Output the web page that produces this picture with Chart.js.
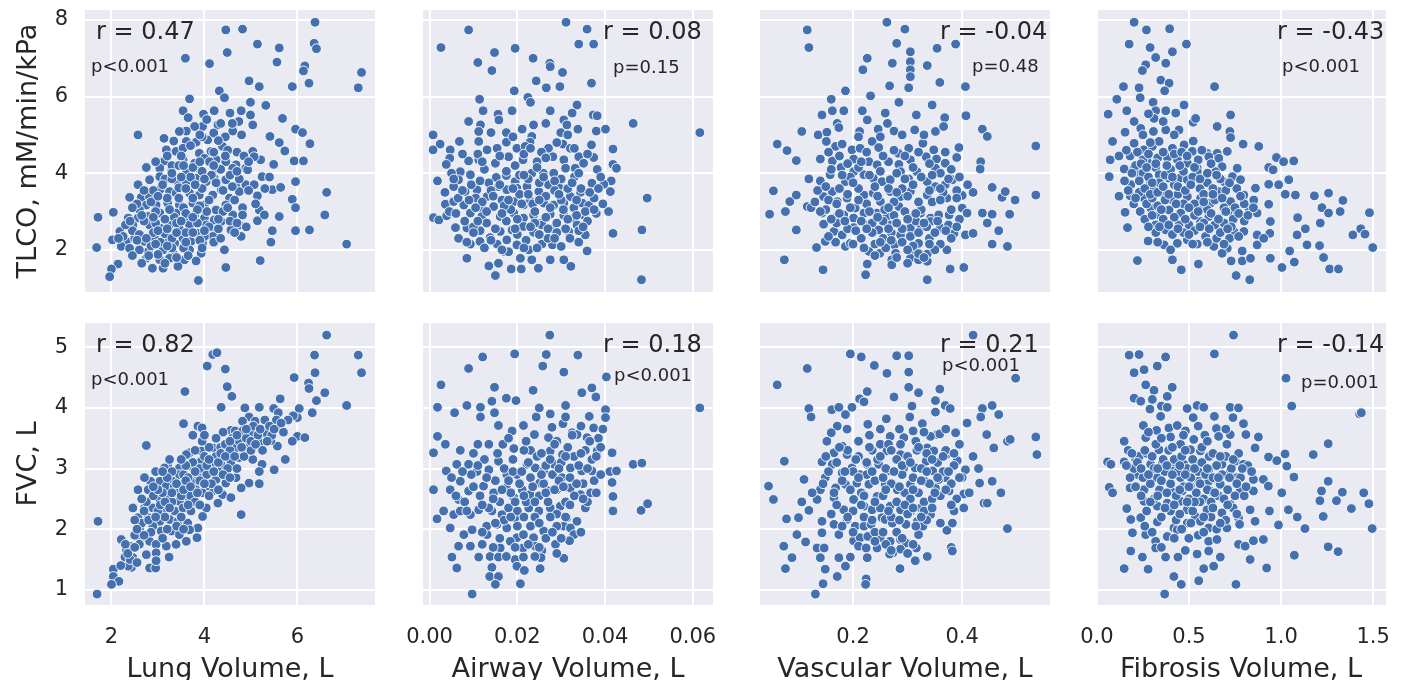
<!DOCTYPE html>
<html>
<head>
<meta charset="utf-8">
<script src="https://cdn.jsdelivr.net/npm/chart.js@4"></script>
<style>
  html, body { margin: 0; padding: 0; background: #fff; overflow: hidden; }
  #wrap { position: relative; width: 1404px; height: 680px; overflow: hidden; }
  #wrap canvas { position: absolute; }
</style>
</head>
<body>
<div id="wrap"></div>
<script>
// values, one [x, y] list per panel
// (later lines of each list = markers estimated inside the dense clusters)

// row 1: TLCO
let lungTlco = [[6.38,7.94],[4.46,7.74],[4.82,7.76],[5.14,7.37],[5.61,7.27],[6.36,7.39],[6.41,7.25],[4.49,7.15],[3.59,7.0],[4.11,6.86],[5.56,6.90],[6.16,6.80],[6.13,6.67],[7.38,6.63],[7.31,6.23],[4.96,6.41],[5.18,6.26],[5.89,6.26],[6.25,6.35],[4.32,6.15],[4.43,5.97],[3.68,5.94],[4.99,5.85],[5.32,5.77],[3.54,5.63],[3.98,5.54],[4.21,5.63],[4.55,5.57],[4.79,5.63],[4.99,5.52],[5.68,5.43],[4.74,5.35],[4.29,5.26],[3.96,5.22],[3.79,5.22],[3.61,5.10],[3.46,5.09],[4.61,5.10],[5.04,5.26],[2.57,5.0],[5.96,5.15],[6.11,5.06],[5.41,4.96],[5.61,4.80],[6.27,4.77],[3.13,4.91],[3.34,4.84],[3.61,4.83],[3.82,4.81],[4.07,4.87],[4.39,4.70],[5.73,4.58],[5.04,4.57],[5.21,4.35],[3.18,4.61],[3.39,4.57],[3.54,4.65],[3.89,4.52],[4.14,4.57],[4.25,4.35],[4.46,4.30],[4.68,4.22],[4.89,4.13],[5.07,4.43],[5.49,4.23],[5.93,4.32],[6.13,4.32],[3.14,4.32],[3.54,4.35],[3.79,4.26],[4.0,4.39],[2.75,4.15],[3.04,4.13],[3.29,4.04],[3.61,4.0],[3.86,4.13],[4.11,4.30],[4.29,4.13],[4.61,4.13],[4.93,4.09],[5.24,3.91],[5.96,3.78],[2.82,3.83],[3.04,3.91],[3.43,3.78],[3.61,3.78],[3.82,3.87],[4.04,3.78],[4.21,3.87],[4.46,3.83],[4.68,3.65],[4.89,3.70],[5.07,3.70],[2.57,3.70],[5.46,3.57],[5.64,3.63],[6.63,3.50],[2.39,3.37],[2.64,3.37],[2.82,3.39],[3.04,3.57],[3.25,3.52],[3.39,3.48],[3.68,3.48],[3.89,3.43],[4.18,3.43],[4.36,3.57],[4.54,3.35],[4.75,3.52],[5.14,3.41],[5.89,3.32],[5.96,3.10],[2.75,3.17],[2.96,3.17],[3.21,3.22],[3.46,3.17],[3.75,3.22],[4.0,3.17],[4.25,3.04],[4.46,3.17],[4.82,3.10],[5.18,3.04],[5.61,2.87],[6.59,2.91],[1.71,2.85],[2.04,2.98],[2.36,2.83],[2.57,2.83],[2.79,2.87],[3.04,2.96],[3.39,2.96],[3.61,2.83],[3.79,2.91],[4.0,2.83],[4.21,2.78],[4.36,2.74],[4.61,2.91],[4.82,2.91],[5.14,2.76],[5.29,2.91],[2.18,2.48],[2.46,2.65],[2.82,2.65],[3.04,2.57],[3.25,2.65],[3.46,2.55],[3.68,2.65],[3.86,2.43],[4.04,2.65],[4.21,2.48],[4.57,2.52],[4.75,2.65],[5.46,2.50],[5.96,2.50],[6.26,2.52],[2.02,2.26],[2.32,2.22],[2.50,2.30],[2.71,2.22],[2.93,2.30],[3.14,2.26],[3.36,2.17],[3.54,2.30],[3.71,2.22],[3.96,2.17],[4.18,2.35],[4.79,2.35],[5.43,2.20],[7.06,2.15],[1.68,2.06],[2.21,2.09],[2.39,2.04],[2.79,1.96],[3.11,2.0],[3.32,1.91],[3.68,2.0],[3.93,1.91],[4.43,2.0],[2.14,1.63],[2.75,1.78],[3.04,1.74],[3.25,1.78],[3.46,1.65],[3.57,1.74],[3.82,1.71],[2.88,1.52],[3.11,1.52],[3.43,1.57],[2.0,1.50],[1.96,1.30],[4.46,1.54],[5.20,1.72],[3.87,1.2],
  [2.6,3.05],[2.9,3.55],[3.15,3.85],[3.3,4.2],[3.5,4.45],[3.7,4.72],[3.95,4.95],[4.2,5.05],[4.45,4.95],[4.7,4.55],[4.85,4.45],[4.2,4.55],[3.95,4.05],[3.7,3.9],[3.45,3.62],[3.2,3.35],[2.95,3.0],[2.7,2.75],[2.45,2.5],[2.25,2.35],[2.6,2.4],[2.9,2.45],[3.15,2.42],[3.35,2.85],[3.55,3.1],[3.75,3.35],[3.95,3.6],[4.15,3.95],[4.35,4.1],[4.55,3.95],[4.75,3.85],[4.95,3.55],[4.65,3.3],[4.4,3.0],[4.1,2.6],[3.85,2.7],[3.6,2.45],[3.3,2.3],[3.05,2.2],[2.85,2.1],[2.6,2.0],[2.45,1.85],[2.65,1.65],[3.0,1.88],[3.3,2.05],[3.55,2.05],[3.75,2.45],[4.0,2.35],[4.3,2.55],[4.55,2.75],[4.9,2.6],[5.1,3.2],[5.3,3.6],[5.4,3.9],[4.05,3.0],[3.9,3.15],[3.25,3.05],[2.95,2.7],[2.3,2.65],[2.15,2.3],[3.5,3.9],[3.75,4.15],[4.5,4.6],[4.3,4.85],[3.45,4.2],[3.2,4.45],[2.95,4.3],[3.9,5.0],[4.6,5.3],[4.05,5.4],
  [2.55,3.2],[2.7,3.55],[2.85,3.25],[3.0,3.4],[3.1,3.7],[3.3,3.85],[3.45,3.35],[3.6,3.6],[3.8,3.7],[4.0,3.85],[4.25,3.75],[4.4,3.55],[4.6,3.65],[4.1,3.3],[3.85,3.05],[3.6,2.95],[3.4,2.7],[3.15,2.8],[2.9,2.85],[2.65,2.9],[2.45,3.1],[2.4,2.75],[2.55,2.25],[2.75,2.3],[3.0,2.5],[3.2,2.55],[3.5,2.75],[3.75,2.85],[4.0,2.5],[4.3,2.8],[4.5,3.1],[4.7,2.7],[4.2,2.2],[3.9,2.25],[3.6,2.2],[3.4,2.45],[3.2,2.1],[2.95,2.15],[2.8,1.85],[3.15,1.65],[3.4,1.8],[3.65,1.85],[3.95,2.05],[4.35,2.3],[4.65,2.45],[3.3,4.0],[3.55,4.2],[3.9,4.3],[4.2,4.2],[4.45,4.45],[4.7,4.05],[4.95,4.3],[4.8,5.0],[4.35,5.3],[3.65,5.45]]

let airwayTlco = [[0.0311,7.94],[0.0089,7.74],[0.0359,7.76],[0.0340,7.37],[0.0374,7.37],[0.0026,7.28],[0.0148,7.15],[0.0195,7.26],[0.0110,6.89],[0.0142,6.68],[0.0236,7.0],[0.0274,6.87],[0.0275,6.78],[0.0303,6.63],[0.0369,6.35],[0.0243,6.41],[0.0266,6.23],[0.0297,6.26],[0.0193,6.15],[0.0114,5.93],[0.0224,5.98],[0.0230,5.85],[0.0336,5.78],[0.0122,5.63],[0.0188,5.63],[0.0275,5.63],[0.0325,5.57],[0.0373,5.52],[0.0382,5.50],[0.0464,5.30],[0.0616,5.06],[0.0156,5.54],[0.0158,5.39],[0.0089,5.35],[0.0116,5.26],[0.0140,5.06],[0.0112,5.09],[0.0211,5.15],[0.0237,5.26],[0.0306,5.39],[0.0313,5.26],[0.0338,5.15],[0.0380,5.10],[0.0401,5.15],[0.0299,5.06],[0.0008,5.0],[0.0175,5.06],[0.0233,4.96],[0.0229,4.81],[0.0068,4.83],[0.0024,4.76],[0.0112,4.83],[0.0154,4.65],[0.0131,4.61],[0.0175,4.81],[0.0199,4.65],[0.0218,4.70],[0.0271,4.65],[0.0304,4.76],[0.0321,4.65],[0.0369,4.74],[0.0418,4.63],[0.0008,4.61],[0.0047,4.61],[0.0046,4.39],[0.0038,4.23],[0.0089,4.32],[0.0112,4.35],[0.0150,4.26],[0.0180,4.43],[0.0213,4.35],[0.0245,4.30],[0.0281,4.43],[0.0306,4.35],[0.0340,4.43],[0.0374,4.41],[0.0418,4.23],[0.0426,4.13],[0.0070,4.04],[0.0093,3.96],[0.0066,3.83],[0.0018,3.80],[0.0152,3.89],[0.0175,3.94],[0.0195,3.78],[0.0233,4.0],[0.0259,4.0],[0.0283,4.0],[0.0310,4.13],[0.0332,4.13],[0.0351,4.26],[0.0382,4.10],[0.0414,3.80],[0.0397,3.71],[0.0370,3.74],[0.0055,3.65],[0.0081,3.52],[0.0108,3.57],[0.0131,3.39],[0.0157,3.65],[0.0176,3.57],[0.0199,3.61],[0.0222,3.65],[0.0249,3.52],[0.0271,3.70],[0.0294,3.65],[0.0321,3.39],[0.0344,3.50],[0.0412,3.52],[0.0496,3.35],[0.0036,3.19],[0.0055,3.26],[0.0078,3.17],[0.0119,3.10],[0.0146,3.13],[0.0192,3.26],[0.0214,3.17],[0.0229,3.28],[0.0260,3.22],[0.0283,3.17],[0.0306,3.22],[0.0329,3.10],[0.0348,3.22],[0.0363,3.16],[0.0009,2.84],[0.0021,2.78],[0.0039,2.89],[0.0093,2.96],[0.0119,2.87],[0.0161,2.87],[0.0192,2.96],[0.0214,2.83],[0.0237,2.91],[0.0256,2.70],[0.0275,2.93],[0.0306,2.90],[0.0329,2.83],[0.0351,2.91],[0.0408,3.0],[0.0484,2.52],[0.0059,2.58],[0.0085,2.57],[0.0115,2.50],[0.0138,2.32],[0.0161,2.48],[0.0188,2.52],[0.0214,2.61],[0.0237,2.46],[0.0256,2.65],[0.0280,2.55],[0.0317,2.48],[0.0336,2.65],[0.0355,2.39],[0.0418,2.43],[0.0066,2.30],[0.0093,2.15],[0.0115,2.22],[0.0154,2.15],[0.0176,2.26],[0.0199,2.13],[0.0226,2.0],[0.0256,2.15],[0.0280,2.13],[0.0300,2.09],[0.0085,1.78],[0.0135,1.58],[0.0157,1.65],[0.0169,1.96],[0.0207,1.78],[0.0233,1.74],[0.0248,1.52],[0.0275,1.74],[0.0306,1.74],[0.0322,1.57],[0.0359,1.97],[0.0150,1.33],[0.0186,1.50],[0.0209,1.50],[0.0483,1.22],
  [0.0045,3.0],[0.0065,3.35],[0.0095,3.7],[0.0125,4.1],[0.0135,3.75],[0.0165,3.3],[0.0185,3.05],[0.0205,3.45],[0.0225,3.85],[0.0245,4.15],[0.0265,3.4],[0.0285,3.55],[0.0300,3.85],[0.0315,3.6],[0.0335,3.3],[0.0355,3.0],[0.0375,3.35],[0.0390,3.9],[0.0360,4.5],[0.0330,4.65],[0.0290,4.8],[0.0255,4.55],[0.0215,4.5],[0.0175,4.05],[0.0140,3.55],[0.0105,3.35],[0.0080,2.75],[0.0100,2.6],[0.0130,2.7],[0.0150,2.55],[0.0175,2.75],[0.0200,2.4],[0.0220,2.25],[0.0240,2.7],[0.0265,2.85],[0.0290,2.7],[0.0310,2.55],[0.0340,2.5],[0.0360,2.75],[0.0380,2.95],[0.0270,2.3],[0.0245,2.05],[0.0180,1.95],[0.0125,2.05],[0.0100,2.45],[0.0060,2.95],[0.0035,3.5],[0.0050,4.0],[0.0110,4.5],[0.0190,4.95],[0.0265,5.3],[0.0315,5.0],[0.0205,3.95],[0.0250,3.75],[0.0160,4.45],[0.0235,3.2],[0.0300,3.3],[0.0330,3.9],[0.0170,3.15],[0.0120,3.25],
  [0.0055,3.85],[0.0075,3.55],[0.0090,3.3],[0.0105,3.1],[0.0115,3.8],[0.0130,3.0],[0.0145,3.4],[0.0160,3.7],[0.0165,2.95],[0.0180,3.3],[0.0190,3.6],[0.0200,2.8],[0.0210,3.2],[0.0215,3.95],[0.0225,3.45],[0.0230,2.6],[0.0240,3.0],[0.0250,3.3],[0.0260,3.9],[0.0270,2.55],[0.0275,3.1],[0.0285,3.8],[0.0290,2.45],[0.0295,3.45],[0.0305,3.05],[0.0315,2.8],[0.0325,3.75],[0.0335,2.9],[0.0345,3.6],[0.0350,2.6],[0.0365,3.5],[0.0375,3.05],[0.0385,3.6],[0.0395,3.2],[0.0085,2.2],[0.0110,2.75],[0.0140,2.25],[0.0165,2.0],[0.0195,2.55],[0.0215,2.05],[0.0250,2.4],[0.0285,2.3],[0.0320,2.3],[0.0340,2.2],[0.0120,4.3],[0.0195,4.2],[0.0265,4.4],[0.0340,4.0],[0.0075,4.5],[0.0230,4.65]]

let vascTlco = [[0.262,7.94],[0.116,7.74],[0.295,7.76],[0.119,7.28],[0.280,7.39],[0.305,7.17],[0.354,7.26],[0.388,7.37],[0.226,7.0],[0.218,6.70],[0.272,6.87],[0.305,6.91],[0.305,6.70],[0.305,6.52],[0.302,6.23],[0.336,6.81],[0.267,6.28],[0.359,6.37],[0.406,6.26],[0.186,6.15],[0.160,5.93],[0.232,6.02],[0.284,5.85],[0.345,5.78],[0.143,5.52],[0.162,5.63],[0.183,5.63],[0.217,5.63],[0.226,5.39],[0.259,5.57],[0.263,5.30],[0.316,5.52],[0.368,5.45],[0.407,5.50],[0.171,5.30],[0.106,5.09],[0.136,5.0],[0.152,5.07],[0.174,5.19],[0.212,5.09],[0.246,5.15],[0.275,5.10],[0.313,5.13],[0.351,5.09],[0.366,5.22],[0.437,5.15],[0.446,4.96],[0.061,4.76],[0.079,4.59],[0.096,4.33],[0.151,4.83],[0.168,4.70],[0.180,4.76],[0.198,4.61],[0.213,4.65],[0.235,4.83],[0.247,4.67],[0.283,4.52],[0.302,4.65],[0.328,4.78],[0.348,4.61],[0.369,4.55],[0.394,4.67],[0.390,4.41],[0.535,4.71],[0.434,4.30],[0.433,4.11],[0.140,4.37],[0.162,4.32],[0.178,4.15],[0.201,4.37],[0.229,4.30],[0.244,4.22],[0.265,4.30],[0.284,4.23],[0.305,4.35],[0.334,4.43],[0.353,4.37],[0.369,4.26],[0.119,3.85],[0.143,3.70],[0.158,3.96],[0.186,3.78],[0.201,4.04],[0.220,3.96],[0.237,3.87],[0.253,3.78],[0.268,3.83],[0.287,4.04],[0.302,3.85],[0.317,4.04],[0.336,3.78],[0.351,4.13],[0.369,3.70],[0.382,3.83],[0.054,3.54],[0.084,3.26],[0.096,3.43],[0.116,3.13],[0.123,3.10],[0.146,3.39],[0.162,3.52],[0.171,3.26],[0.189,3.35],[0.204,3.09],[0.220,3.43],[0.237,3.48],[0.250,3.26],[0.268,3.52],[0.287,3.39],[0.305,3.52],[0.320,3.26],[0.336,3.43],[0.351,3.65],[0.372,3.35],[0.400,3.42],[0.420,3.50],[0.455,3.63],[0.473,3.37],[0.479,3.52],[0.497,3.30],[0.535,3.43],[0.047,2.93],[0.076,3.0],[0.143,2.96],[0.165,2.83],[0.183,2.91],[0.201,2.83],[0.220,2.96],[0.244,2.96],[0.262,2.87],[0.284,3.13],[0.302,2.83],[0.324,2.96],[0.342,2.83],[0.357,2.91],[0.376,2.91],[0.400,3.09],[0.409,2.96],[0.437,2.96],[0.455,2.93],[0.487,2.93],[0.096,2.52],[0.146,2.67],[0.165,2.48],[0.180,2.39],[0.201,2.58],[0.224,2.65],[0.247,2.52],[0.268,2.65],[0.287,2.39],[0.305,2.57],[0.324,2.65],[0.342,2.74],[0.360,2.57],[0.385,2.43],[0.406,2.39],[0.420,2.43],[0.446,2.70],[0.467,2.50],[0.133,2.06],[0.149,2.22],[0.168,2.20],[0.186,2.09],[0.195,2.17],[0.229,1.96],[0.249,1.91],[0.276,2.13],[0.278,1.91],[0.305,1.97],[0.320,2.17],[0.336,1.89],[0.372,2.0],[0.455,2.15],[0.483,2.09],[0.074,1.74],[0.145,1.48],[0.226,1.63],[0.223,1.35],[0.271,1.74],[0.271,1.61],[0.305,1.78],[0.320,1.74],[0.336,1.70],[0.378,1.50],[0.403,1.54],[0.336,1.22],
  [0.155,4.55],[0.175,4.45],[0.19,4.25],[0.21,4.15],[0.225,4.55],[0.255,4.45],[0.275,4.6],[0.295,4.45],[0.32,4.55],[0.34,4.25],[0.36,4.0],[0.38,4.1],[0.395,3.9],[0.41,3.7],[0.39,3.55],[0.365,3.5],[0.345,3.25],[0.325,3.05],[0.31,3.7],[0.29,3.6],[0.275,3.25],[0.258,3.05],[0.24,3.65],[0.225,3.2],[0.21,3.6],[0.195,3.9],[0.175,3.6],[0.155,3.3],[0.135,3.55],[0.13,3.25],[0.15,3.05],[0.175,2.95],[0.195,3.1],[0.215,2.75],[0.235,2.7],[0.255,2.75],[0.275,2.9],[0.295,3.0],[0.315,2.75],[0.335,2.6],[0.355,2.75],[0.375,2.65],[0.395,2.8],[0.29,2.55],[0.27,2.45],[0.255,2.3],[0.235,2.45],[0.215,2.3],[0.19,2.55],[0.17,2.7],[0.155,2.35],[0.305,2.35],[0.32,2.45],[0.34,2.3],[0.36,2.15],[0.29,2.2],[0.31,2.1],[0.26,2.05],[0.24,2.15],[0.28,1.8],[0.3,1.65],[0.32,1.9],[0.35,2.0],[0.21,4.95],[0.29,5.0],[0.33,5.0],[0.25,4.95],
  [0.14,3.8],[0.16,4.1],[0.18,3.95],[0.2,3.75],[0.215,4.3],[0.23,3.95],[0.25,4.05],[0.265,3.6],[0.28,4.0],[0.295,3.85],[0.31,4.15],[0.325,3.9],[0.345,3.95],[0.36,3.6],[0.375,3.85],[0.39,3.35],[0.38,3.05],[0.36,3.3],[0.34,3.55],[0.32,3.25],[0.3,3.4],[0.28,3.5],[0.265,3.1],[0.245,3.4],[0.23,3.0],[0.21,3.3],[0.19,3.45],[0.17,3.2],[0.15,3.65],[0.14,3.0],[0.16,2.8],[0.185,2.75],[0.205,2.5],[0.225,2.55],[0.245,2.85],[0.265,2.55],[0.28,2.7],[0.3,2.8],[0.315,2.95],[0.33,2.7],[0.35,2.45],[0.37,2.5],[0.39,2.6],[0.25,2.2],[0.27,2.25],[0.3,2.0],[0.34,2.15],[0.38,2.3],[0.22,2.05],[0.2,2.15],[0.24,1.85],[0.33,1.8]]

let fibTlco = [[0.202,7.94],[0.269,7.74],[0.395,7.77],[0.175,7.37],[0.289,7.28],[0.486,7.37],[0.410,7.17],[0.319,7.02],[0.265,6.83],[0.247,6.68],[0.374,6.87],[0.347,6.43],[0.392,6.35],[0.368,6.15],[0.144,6.26],[0.229,6.23],[0.235,5.97],[0.108,5.93],[0.639,6.26],[0.061,5.54],[0.162,5.63],[0.305,5.85],[0.319,5.63],[0.374,5.63],[0.428,5.57],[0.473,5.78],[0.310,5.43],[0.202,5.35],[0.238,5.17],[0.153,5.07],[0.307,5.09],[0.374,5.13],[0.446,5.13],[0.523,5.33],[0.536,5.43],[0.653,5.22],[0.726,5.52],[0.722,5.09],[0.726,4.93],[0.085,4.83],[0.202,4.78],[0.256,4.61],[0.301,4.70],[0.338,4.83],[0.410,4.65],[0.473,4.74],[0.523,4.84],[0.518,4.57],[0.599,4.52],[0.653,4.52],[0.708,4.57],[0.794,4.76],[0.879,4.70],[0.072,4.35],[0.148,4.11],[0.202,4.13],[0.220,4.0],[0.274,4.30],[0.319,4.15],[0.383,4.41],[0.437,4.35],[0.491,4.26],[0.545,4.13],[0.608,4.43],[0.662,4.39],[0.680,4.17],[0.762,4.13],[0.933,4.15],[0.975,4.41],[0.957,4.09],[1.014,4.30],[1.069,4.32],[0.067,3.91],[0.184,3.70],[0.289,3.78],[0.338,3.96],[0.392,3.87],[0.451,3.87],[0.491,3.83],[0.545,4.04],[0.590,3.89],[0.644,4.04],[0.690,3.78],[0.736,3.91],[0.780,3.83],[0.861,3.61],[0.933,3.71],[0.987,3.70],[1.042,3.83],[0.181,3.41],[0.256,3.35],[0.356,3.48],[0.410,3.30],[0.491,3.39],[0.563,3.35],[0.617,3.22],[0.662,3.52],[0.726,3.26],[0.798,3.43],[0.852,3.30],[0.933,3.19],[1.023,3.45],[1.078,3.43],[1.181,3.41],[1.258,3.48],[1.336,3.29],[0.153,2.98],[0.235,3.0],[0.292,3.09],[0.338,2.91],[0.392,3.04],[0.455,2.96],[0.509,3.09],[0.554,3.04],[0.608,2.87],[0.662,2.83],[0.717,3.0],[0.762,2.91],[0.825,3.09],[0.870,2.96],[0.942,2.74],[1.090,2.84],[1.222,3.10],[1.258,2.96],[1.321,3.0],[1.480,2.97],[0.166,2.58],[0.319,2.65],[0.374,2.52],[0.446,2.65],[0.500,2.65],[0.563,2.74],[0.608,2.57],[0.671,2.48],[0.744,2.48],[0.798,2.48],[0.870,2.39],[0.939,2.43],[1.087,2.39],[1.132,2.55],[1.213,2.70],[1.390,2.39],[1.433,2.55],[1.456,2.41],[1.498,2.06],[0.278,2.23],[0.365,2.13],[0.437,2.17],[0.491,2.26],[0.545,2.15],[0.635,2.09],[0.708,2.04],[0.789,1.97],[0.870,2.13],[0.906,2.30],[1.047,1.97],[1.141,2.13],[1.209,2.11],[0.220,1.72],[0.410,1.74],[0.458,1.48],[0.551,1.63],[0.680,1.91],[0.729,1.71],[0.789,1.71],[0.834,1.78],[0.942,1.78],[1.005,1.54],[1.072,1.68],[1.231,1.80],[1.264,1.50],[1.312,1.50],[0.756,1.33],[0.830,1.22],
  [0.18,4.45],[0.22,4.55],[0.25,4.35],[0.28,4.5],[0.33,4.4],[0.36,4.55],[0.42,4.5],[0.46,4.55],[0.49,4.45],[0.55,4.35],[0.57,4.6],[0.62,4.25],[0.21,4.2],[0.25,4.0],[0.28,3.9],[0.31,3.6],[0.34,3.75],[0.37,3.95],[0.4,4.1],[0.42,3.7],[0.47,4.05],[0.52,3.9],[0.56,3.6],[0.6,3.75],[0.63,3.6],[0.67,3.85],[0.7,3.55],[0.76,3.6],[0.2,3.2],[0.23,3.5],[0.27,3.2],[0.3,3.35],[0.33,3.15],[0.37,3.3],[0.44,3.45],[0.47,3.2],[0.53,3.2],[0.58,3.45],[0.6,3.05],[0.64,3.3],[0.69,3.1],[0.75,3.1],[0.8,3.2],[0.26,2.8],[0.3,2.9],[0.36,2.8],[0.42,2.85],[0.48,2.8],[0.53,2.9],[0.58,2.7],[0.64,2.65],[0.69,2.7],[0.74,2.8],[0.8,2.75],[0.32,2.45],[0.41,2.4],[0.47,2.45],[0.53,2.5],[0.59,2.35],[0.65,2.3],[0.72,2.3],[0.4,2.0],[0.25,5.0],[0.29,4.8],[0.16,4.6],[0.12,3.4],[0.12,4.45],[0.36,5.35],[0.42,5.0],[0.28,5.55],
  [0.15,3.8],[0.17,3.55],[0.19,4.0],[0.21,3.35],[0.23,3.8],[0.24,4.25],[0.26,3.6],[0.27,4.15],[0.29,3.45],[0.3,3.75],[0.32,4.25],[0.33,3.5],[0.35,3.05],[0.36,3.65],[0.38,4.2],[0.39,3.45],[0.41,3.9],[0.43,3.2],[0.44,3.65],[0.45,4.2],[0.48,3.55],[0.5,3.1],[0.51,3.7],[0.53,4.15],[0.55,3.0],[0.56,3.85],[0.58,3.25],[0.6,4.0],[0.62,2.95],[0.63,3.45],[0.65,3.95],[0.66,2.8],[0.68,3.35],[0.7,3.0],[0.72,3.75],[0.73,2.6],[0.77,2.95],[0.78,3.4],[0.82,2.9],[0.85,3.1],[0.28,2.6],[0.34,2.6],[0.39,2.65],[0.44,2.55],[0.5,2.4],[0.56,2.6],[0.61,2.55],[0.67,2.45],[0.71,2.55],[0.77,2.35],[0.33,2.2],[0.52,2.15],[0.6,2.2],[0.69,2.15]]

// row 2: FVC
let lungFvc = [[6.63,5.20],[1.71,2.13],[1.69,0.93],[4.18,4.88],[4.27,4.91],[4.06,4.69],[4.45,4.64],[3.58,4.27],[4.49,4.35],[4.59,4.19],[4.36,4.01],[3.55,3.74],[3.86,3.70],[3.95,3.67],[2.75,3.38],[6.37,4.87],[7.31,4.87],[7.38,4.58],[6.38,4.58],[5.93,4.50],[6.24,4.41],[6.25,4.32],[6.59,4.25],[6.41,4.12],[7.06,4.04],[5.63,4.15],[5.49,3.99],[5.59,3.92],[6.04,3.99],[6.0,3.84],[5.91,3.87],[6.32,3.92],[5.18,4.01],[4.87,4.0],[4.96,3.85],[4.82,3.78],[5.09,3.78],[5.43,3.71],[4.57,3.63],[4.66,3.62],[4.82,3.62],[5.04,3.59],[5.32,3.59],[5.61,3.67],[6.0,3.53],[6.16,3.51],[5.89,3.45],[5.57,3.37],[5.43,3.46],[5.18,3.42],[4.96,3.37],[4.68,3.34],[4.39,3.29],[4.18,3.34],[3.93,3.29],[3.68,3.26],[3.61,3.23],[5.74,3.15],[5.50,2.98],[5.24,3.07],[5.04,3.15],[4.75,3.18],[4.57,3.09],[4.36,3.06],[4.14,3.06],[3.93,3.12],[3.71,3.04],[3.46,3.01],[3.21,3.04],[3.14,3.01],[5.18,2.95],[4.96,2.76],[5.18,2.75],[4.79,2.68],[4.79,2.24],[4.68,2.85],[4.46,2.76],[4.25,2.82],[4.18,2.63],[4.04,2.71],[3.79,2.79],[3.46,2.90],[3.57,2.76],[3.32,2.79],[3.04,2.79],[2.84,2.79],[2.71,2.85],[3.18,2.71],[3.39,2.60],[3.61,2.63],[3.82,2.65],[4.39,2.57],[4.57,2.52],[4.29,2.43],[2.57,2.65],[2.79,2.65],[3.04,2.49],[3.21,2.52],[3.46,2.46],[3.68,2.49],[3.86,2.41],[4.04,2.35],[2.46,2.35],[2.71,2.35],[2.89,2.35],[3.11,2.32],[3.36,2.30],[3.54,2.35],[3.71,2.30],[3.96,2.21],[2.57,2.19],[2.79,2.19],[3.04,2.13],[3.25,2.16],[3.43,2.13],[3.64,2.10],[3.86,2.02],[2.61,2.02],[2.89,2.05],[3.07,1.97],[3.29,1.97],[3.46,1.91],[3.68,1.99],[3.84,1.86],[2.21,1.83],[2.39,1.72],[2.61,1.85],[2.82,1.80],[2.96,1.75],[3.18,1.72],[3.39,1.75],[3.61,1.80],[2.32,1.66],[2.29,1.54],[2.46,1.53],[2.75,1.58],[2.96,1.61],[3.24,1.54],[2.82,1.36],[2.95,1.36],[2.43,1.37],[2.04,1.34],[2.04,1.22],[2.16,1.14],[2.0,1.09],[2.36,1.39],[2.96,1.48],
  [2.3,1.75],[2.5,1.9],[2.65,2.1],[2.75,2.45],[2.9,2.55],[3.0,2.3],[3.1,2.6],[3.15,2.2],[3.3,2.45],[3.35,2.7],[3.45,2.6],[3.5,2.2],[3.55,2.9],[3.65,2.85],[3.7,2.55],[3.75,3.1],[3.8,2.45],[3.85,2.9],[3.9,3.0],[3.95,2.6],[4.0,3.2],[4.05,2.9],[4.1,3.35],[4.15,2.75],[4.2,3.1],[4.25,3.2],[4.3,2.95],[4.35,3.35],[4.45,3.4],[4.5,3.0],[4.55,3.3],[4.6,3.5],[4.7,3.0],[4.75,3.45],[4.85,3.2],[4.9,3.5],[5.0,3.3],[5.05,3.7],[5.15,3.55],[5.25,3.3],[5.3,3.8],[5.45,3.55],[5.55,3.8],[5.7,3.6],[5.8,3.8],[3.3,2.95],[3.6,3.05],[3.2,2.85],[2.95,2.95],[2.65,2.5],[2.5,2.15],[2.85,1.95],[2.6,1.75],[3.1,1.85],[3.95,3.45],[4.4,3.6],[4.25,3.5],[4.0,3.55],[3.75,3.55],[3.9,2.4],[4.1,2.55],[3.4,2.05],[2.4,1.5],[2.2,1.4],[2.55,1.45],
  [2.35,1.6],[2.5,1.7],[2.7,1.9],[2.8,2.15],[2.95,2.2],[3.05,2.4],[3.15,2.45],[3.25,2.35],[3.3,2.6],[3.4,2.75],[3.5,2.55],[3.55,2.65],[3.6,2.8],[3.65,2.4],[3.7,2.7],[3.8,2.95],[3.85,2.6],[3.9,2.8],[4.0,2.75],[4.05,3.05],[4.1,3.15],[4.2,2.95],[4.3,3.1],[4.35,3.25],[4.4,2.9],[4.45,3.2],[4.55,3.45],[4.65,3.2],[4.7,3.55],[4.8,3.35],[4.9,3.65],[5.0,3.45],[5.1,3.4],[5.2,3.65],[5.35,3.45],[5.4,3.7],[5.5,3.65],[5.65,3.75],[3.0,2.65],[3.1,2.95],[2.9,2.7],[2.7,2.3],[2.55,2.0],[3.5,3.15],[3.25,3.15],[3.8,3.3],[4.55,2.85],[4.3,2.65],[3.55,2.0],[3.2,2.0]]

let airwayFvc = [[0.0274,5.20],[0.0121,4.84],[0.0194,4.89],[0.0266,4.88],[0.0338,4.87],[0.0089,4.65],[0.0258,4.69],[0.0306,4.59],[0.0403,4.51],[0.0026,4.38],[0.0148,4.34],[0.0236,4.29],[0.0347,4.25],[0.0370,4.33],[0.0379,4.18],[0.0175,4.16],[0.0197,4.12],[0.0142,4.11],[0.0085,4.04],[0.0018,4.01],[0.0116,4.01],[0.0057,3.92],[0.0148,3.92],[0.0116,3.85],[0.0310,4.04],[0.0401,3.97],[0.0401,3.84],[0.0616,4.0],[0.0364,3.86],[0.0243,3.85],[0.0157,3.71],[0.0214,3.71],[0.0188,3.62],[0.0279,3.68],[0.0304,3.74],[0.0374,3.67],[0.0239,3.56],[0.0271,3.51],[0.0290,3.45],[0.0325,3.59],[0.0336,3.56],[0.0359,3.51],[0.0018,3.53],[0.0036,3.40],[0.0009,3.26],[0.0110,3.40],[0.0167,3.40],[0.0192,3.33],[0.0230,3.30],[0.0275,3.29],[0.0303,3.23],[0.0329,3.20],[0.0382,3.29],[0.0416,3.26],[0.0464,3.07],[0.0484,3.09],[0.0038,2.96],[0.0062,3.07],[0.0089,3.07],[0.0108,2.95],[0.0135,2.98],[0.0157,3.12],[0.0176,2.90],[0.0199,2.90],[0.0222,3.07],[0.0241,3.01],[0.0260,2.96],[0.0283,3.07],[0.0302,2.85],[0.0321,3.01],[0.0347,2.96],[0.0370,2.96],[0.0411,2.95],[0.0426,2.96],[0.0416,2.77],[0.0009,2.65],[0.0047,2.65],[0.0070,2.79],[0.0066,2.49],[0.0089,2.63],[0.0123,2.71],[0.0146,2.60],[0.0175,2.68],[0.0192,2.52],[0.0211,2.65],[0.0229,2.57],[0.0251,2.76],[0.0271,2.63],[0.0290,2.65],[0.0321,2.68],[0.0344,2.57],[0.0367,2.60],[0.0418,2.54],[0.0418,2.30],[0.0482,2.31],[0.0497,2.42],[0.0017,2.17],[0.0032,2.30],[0.0055,2.24],[0.0070,2.30],[0.0093,2.24],[0.0112,2.32],[0.0142,2.30],[0.0165,2.24],[0.0180,2.35],[0.0195,2.19],[0.0226,2.35],[0.0249,2.30],[0.0275,2.35],[0.0298,2.38],[0.0313,2.19],[0.0336,2.13],[0.0355,2.35],[0.0047,2.02],[0.0078,1.91],[0.0097,1.99],[0.0131,1.91],[0.0154,2.08],[0.0176,2.02],[0.0199,1.86],[0.0214,1.91],[0.0237,1.86],[0.0260,1.97],[0.0287,1.75],[0.0306,2.05],[0.0321,2.02],[0.0329,1.91],[0.0066,1.72],[0.0093,1.72],[0.0161,1.69],[0.0184,1.80],[0.0213,1.69],[0.0241,1.72],[0.0256,1.65],[0.0319,1.81],[0.0051,1.54],[0.0112,1.54],[0.0138,1.55],[0.0157,1.54],[0.0195,1.50],[0.0214,1.54],[0.0254,1.53],[0.0306,1.52],[0.0062,1.36],[0.0142,1.37],[0.0199,1.39],[0.0216,1.32],[0.0252,1.35],[0.0137,1.22],[0.0157,1.22],[0.0150,1.09],[0.0207,1.10],[0.0097,0.93],
  [0.0050,2.85],[0.0080,2.45],[0.0095,2.9],[0.0115,2.55],[0.0125,3.15],[0.0135,2.35],[0.0150,2.8],[0.0160,2.45],[0.0170,3.0],[0.0185,2.6],[0.0190,2.95],[0.0200,2.3],[0.0205,2.75],[0.0215,3.3],[0.0220,2.45],[0.0230,2.85],[0.0240,2.2],[0.0245,3.2],[0.0250,2.55],[0.0260,2.75],[0.0265,3.05],[0.0270,2.45],[0.0280,2.9],[0.0285,3.4],[0.0290,2.25],[0.0295,2.8],[0.0300,3.1],[0.0310,2.45],[0.0315,3.35],[0.0320,2.85],[0.0330,2.55],[0.0340,3.05],[0.0350,2.75],[0.0355,3.3],[0.0360,2.45],[0.0370,3.15],[0.0375,2.8],[0.0385,3.5],[0.0390,2.9],[0.0395,3.65],[0.0345,3.7],[0.0310,3.85],[0.0275,3.9],[0.0250,4.0],[0.0220,3.45],[0.0180,3.5],[0.0135,3.4],[0.0100,3.25],[0.0070,3.3],[0.0130,2.05],[0.0160,1.85],[0.0200,2.05],[0.0230,2.05],[0.0265,1.85],[0.0290,2.05],[0.0250,1.7],[0.0175,1.55],[0.0120,1.75],[0.0290,1.6],[0.0345,1.95],
  [0.0060,2.55],[0.0075,2.95],[0.0085,2.3],[0.0100,2.7],[0.0110,3.05],[0.0120,2.4],[0.0130,2.85],[0.0145,2.5],[0.0155,3.25],[0.0165,2.65],[0.0170,2.15],[0.0180,2.8],[0.0190,3.15],[0.0195,2.45],[0.0210,2.95],[0.0215,2.55],[0.0225,3.1],[0.0235,2.7],[0.0240,2.45],[0.0255,2.9],[0.0255,3.25],[0.0265,2.6],[0.0275,2.2],[0.0275,3.15],[0.0285,2.65],[0.0295,3.0],[0.0305,2.7],[0.0310,3.2],[0.0320,2.4],[0.0325,3.55],[0.0335,2.75],[0.0345,3.25],[0.0350,2.5],[0.0360,3.0],[0.0365,3.45],[0.0380,2.6],[0.0380,3.2],[0.0390,3.35],[0.0150,2.1],[0.0185,2.2],[0.0215,2.2],[0.0250,2.1],[0.0280,1.95],[0.0310,2.2],[0.0120,1.95],[0.0225,1.75],[0.0195,1.7],[0.0240,1.55],[0.0145,1.7],[0.0300,1.85]]

let vascFvc = [[0.420,5.20],[0.195,4.89],[0.215,4.84],[0.280,4.86],[0.302,4.86],[0.116,4.65],[0.239,4.70],[0.262,4.57],[0.302,4.59],[0.498,4.49],[0.061,4.38],[0.226,4.27],[0.212,4.15],[0.220,4.10],[0.275,4.18],[0.302,4.34],[0.320,4.25],[0.359,4.31],[0.351,4.12],[0.369,4.04],[0.378,3.99],[0.308,4.03],[0.351,3.93],[0.437,3.99],[0.455,4.04],[0.467,3.89],[0.434,3.85],[0.119,3.99],[0.123,3.85],[0.161,3.97],[0.174,4.01],[0.198,4.01],[0.186,3.89],[0.261,3.82],[0.304,3.85],[0.327,3.74],[0.227,3.73],[0.171,3.70],[0.160,3.59],[0.189,3.65],[0.354,3.56],[0.310,3.62],[0.342,3.53],[0.359,3.57],[0.388,3.59],[0.409,3.75],[0.445,3.56],[0.483,3.45],[0.488,3.48],[0.458,3.34],[0.535,3.52],[0.537,3.23],[0.268,3.53],[0.293,3.51],[0.287,3.40],[0.250,3.40],[0.152,3.45],[0.180,3.37],[0.165,3.26],[0.189,3.23],[0.235,3.30],[0.262,3.29],[0.287,3.23],[0.317,3.30],[0.336,3.34],[0.348,3.29],[0.371,3.23],[0.391,3.13],[0.074,3.12],[0.143,3.11],[0.162,3.07],[0.180,2.93],[0.198,3.01],[0.213,2.90],[0.226,3.07],[0.247,3.07],[0.268,2.96],[0.293,3.01],[0.314,3.01],[0.334,3.12],[0.346,2.96],[0.369,2.85],[0.406,2.98],[0.400,2.85],[0.432,2.76],[0.455,2.79],[0.471,2.60],[0.110,2.82],[0.149,2.85],[0.045,2.71],[0.054,2.49],[0.140,2.65],[0.168,2.68],[0.186,2.74],[0.207,2.76],[0.229,2.74],[0.244,2.54],[0.259,2.74],[0.281,2.65],[0.305,2.74],[0.331,2.79],[0.351,2.68],[0.357,2.82],[0.376,2.63],[0.403,2.58],[0.413,2.60],[0.440,2.43],[0.446,2.43],[0.106,2.45],[0.134,2.49],[0.165,2.52],[0.183,2.32],[0.201,2.49],[0.220,2.38],[0.235,2.32],[0.253,2.19],[0.268,2.38],[0.287,2.32],[0.306,2.30],[0.324,2.35],[0.342,2.24],[0.385,2.30],[0.403,2.35],[0.078,2.17],[0.100,2.19],[0.119,2.31],[0.143,2.13],[0.165,2.08],[0.189,2.16],[0.204,2.05],[0.220,2.05],[0.233,2.08],[0.259,2.16],[0.272,2.10],[0.297,2.08],[0.318,2.13],[0.328,2.05],[0.372,1.98],[0.382,2.10],[0.483,2.01],[0.097,1.91],[0.113,1.79],[0.143,1.94],[0.174,1.91],[0.201,1.81],[0.213,1.86],[0.227,1.88],[0.250,1.86],[0.268,1.80],[0.287,1.83],[0.297,1.77],[0.320,1.91],[0.073,1.72],[0.134,1.69],[0.147,1.69],[0.210,1.72],[0.224,1.69],[0.244,1.69],[0.273,1.61],[0.287,1.67],[0.316,1.69],[0.380,1.70],[0.382,1.64],[0.088,1.53],[0.140,1.53],[0.174,1.53],[0.195,1.54],[0.226,1.53],[0.267,1.59],[0.336,1.55],[0.076,1.35],[0.149,1.34],[0.186,1.39],[0.286,1.35],[0.314,1.48],[0.171,1.22],[0.224,1.18],[0.223,1.09],[0.145,1.10],[0.131,0.93],
  [0.15,3.2],[0.17,3.1],[0.18,2.8],[0.19,3.3],[0.2,2.95],[0.21,3.2],[0.215,2.6],[0.225,2.9],[0.23,3.35],[0.24,2.8],[0.245,3.15],[0.255,2.55],[0.26,3.0],[0.265,3.4],[0.27,2.75],[0.28,3.15],[0.28,2.45],[0.29,2.9],[0.295,2.6],[0.3,3.2],[0.305,2.5],[0.31,2.85],[0.315,3.45],[0.32,2.6],[0.325,3.0],[0.33,2.45],[0.335,3.25],[0.34,2.75],[0.345,2.5],[0.355,3.1],[0.36,2.55],[0.365,2.95],[0.37,3.3],[0.38,2.75],[0.385,3.05],[0.39,2.5],[0.395,3.4],[0.25,2.35],[0.27,2.2],[0.3,2.25],[0.315,2.05],[0.335,2.15],[0.22,2.2],[0.2,2.3],[0.18,2.05],[0.16,2.25],[0.24,1.95],[0.28,1.95],[0.3,1.6],[0.26,1.75],[0.25,3.65],[0.23,3.55],[0.285,3.65],[0.33,3.6],[0.37,3.65],[0.21,3.45],[0.145,2.75],[0.125,2.6],[0.42,3.2],[0.43,3.0],
  [0.155,2.95],[0.165,2.6],[0.175,3.35],[0.185,2.95],[0.195,2.65],[0.205,3.15],[0.21,2.85],[0.22,2.55],[0.225,3.1],[0.235,2.95],[0.24,2.45],[0.25,3.2],[0.255,2.85],[0.26,2.65],[0.27,3.3],[0.275,2.95],[0.285,2.7],[0.29,3.05],[0.295,2.4],[0.305,3.1],[0.31,2.65],[0.32,3.35],[0.325,2.8],[0.33,2.3],[0.335,2.95],[0.345,3.15],[0.35,2.6],[0.355,2.85],[0.365,3.2],[0.37,2.65],[0.375,2.95],[0.38,2.4],[0.385,3.25],[0.395,2.85],[0.265,2.3],[0.285,2.15],[0.31,2.35],[0.325,2.2],[0.345,2.35],[0.235,2.15],[0.215,2.4],[0.19,2.2],[0.17,2.4],[0.255,1.95],[0.29,1.85],[0.27,1.65],[0.24,1.8],[0.31,1.75],[0.2,1.95],[0.36,2.1]]

let fibFvc = [[0.742,5.20],[0.175,4.87],[0.229,4.88],[0.373,4.84],[0.638,4.89],[0.328,4.69],[0.256,4.63],[0.202,4.58],[1.027,4.49],[0.265,4.38],[0.310,4.29],[0.409,4.34],[0.382,4.19],[1.058,4.03],[1.427,3.90],[1.436,3.92],[0.202,4.16],[0.238,4.11],[0.301,4.14],[0.350,4.03],[0.382,4.01],[0.288,3.98],[0.346,3.86],[0.490,3.99],[0.544,4.04],[0.580,4.01],[0.523,3.84],[0.724,4.01],[0.769,4.0],[0.739,3.84],[0.796,3.74],[0.638,3.86],[0.649,3.66],[0.252,3.71],[0.324,3.63],[0.391,3.67],[0.436,3.71],[0.481,3.62],[0.526,3.48],[0.586,3.55],[0.661,3.53],[0.724,3.56],[0.809,3.56],[0.877,3.52],[0.859,3.34],[1.256,3.41],[1.175,3.23],[1.022,3.24],[0.932,3.19],[0.977,3.13],[1.031,3.04],[1.070,2.86],[1.256,2.79],[0.148,3.45],[0.265,3.51],[0.337,3.31],[0.400,3.52],[0.454,3.40],[0.508,3.31],[0.562,3.29],[0.706,3.40],[0.751,3.12],[0.796,3.07],[0.058,3.11],[0.076,3.07],[0.148,3.11],[0.211,3.15],[0.292,3.07],[0.355,3.09],[0.418,3.04],[0.472,3.07],[0.544,3.09],[0.607,2.98],[0.679,3.07],[0.724,2.96],[0.220,2.90],[0.328,2.85],[0.409,2.96],[0.454,2.85],[0.553,2.79],[0.607,2.79],[0.661,2.79],[0.760,2.85],[0.850,2.82],[0.904,2.82],[0.180,2.68],[0.067,2.69],[0.085,2.60],[0.256,2.65],[0.400,2.65],[0.463,2.63],[0.508,2.71],[0.616,2.63],[0.670,2.74],[0.778,2.65],[0.850,2.63],[0.931,2.71],[1.004,2.60],[1.220,2.63],[1.211,2.47],[1.301,2.47],[1.333,2.61],[1.382,2.34],[1.449,2.60],[1.477,2.42],[1.229,2.21],[1.495,2.01],[0.162,2.34],[0.256,2.46],[0.328,2.38],[0.382,2.43],[0.454,2.46],[0.490,2.32],[0.535,2.21],[0.598,2.32],[0.679,2.27],[0.724,2.41],[0.769,2.19],[0.832,2.32],[0.937,2.30],[1.040,2.32],[1.088,2.20],[1.130,2.01],[0.986,2.07],[0.184,2.16],[0.238,2.19],[0.328,2.12],[0.418,2.02],[0.490,2.10],[0.562,2.13],[0.607,2.02],[0.706,2.02],[0.775,2.08],[0.859,2.13],[0.193,1.94],[0.265,1.91],[0.319,1.80],[0.382,1.88],[0.436,1.99],[0.499,1.85],[0.607,1.80],[0.652,1.83],[0.769,1.75],[0.805,1.72],[0.850,1.81],[0.904,1.83],[1.256,1.71],[1.310,1.63],[0.184,1.64],[0.247,1.54],[0.319,1.69],[0.373,1.54],[0.440,1.54],[0.544,1.59],[0.607,1.64],[0.670,1.54],[0.832,1.50],[1.072,1.57],[0.148,1.35],[0.278,1.34],[0.418,1.22],[0.458,1.09],[0.553,1.15],[0.580,1.35],[0.634,1.39],[0.922,1.36],[0.755,1.09],[0.368,0.93],
  [0.17,3.3],[0.2,3.0],[0.23,3.2],[0.25,2.85],[0.27,3.25],[0.29,2.75],[0.31,3.0],[0.32,3.4],[0.34,2.65],[0.36,3.15],[0.37,2.95],[0.39,3.3],[0.4,2.75],[0.42,3.15],[0.43,2.55],[0.44,2.95],[0.46,3.2],[0.47,2.7],[0.49,3.0],[0.5,2.5],[0.51,2.85],[0.52,3.15],[0.54,2.6],[0.55,2.95],[0.57,3.35],[0.58,2.5],[0.59,2.9],[0.61,3.2],[0.62,2.45],[0.63,2.85],[0.65,3.05],[0.66,2.55],[0.68,2.9],[0.7,3.2],[0.71,2.65],[0.73,3.0],[0.75,2.55],[0.77,3.25],[0.78,2.85],[0.8,2.55],[0.82,3.05],[0.27,2.3],[0.31,2.5],[0.35,2.2],[0.4,2.3],[0.43,2.15],[0.46,2.0],[0.52,2.3],[0.56,2.45],[0.62,2.2],[0.65,2.0],[0.7,2.15],[0.74,2.35],[0.3,1.95],[0.35,1.7],[0.55,1.9],[0.28,3.6],[0.35,3.5],[0.47,3.55],[0.55,3.7],[0.6,3.45],[0.7,3.65],
  [0.16,3.05],[0.18,2.85],[0.19,3.25],[0.21,2.7],[0.22,3.1],[0.24,3.0],[0.26,3.3],[0.28,2.9],[0.3,3.2],[0.33,3.0],[0.35,2.8],[0.38,3.05],[0.38,2.6],[0.41,2.9],[0.41,3.35],[0.45,3.05],[0.45,2.65],[0.48,2.9],[0.48,3.3],[0.5,2.7],[0.53,3.0],[0.53,2.45],[0.56,2.75],[0.57,3.1],[0.6,2.65],[0.6,3.0],[0.63,3.25],[0.64,2.6],[0.66,2.85],[0.67,3.2],[0.69,2.5],[0.72,2.85],[0.74,3.15],[0.76,2.75],[0.79,3.0],[0.81,2.7],[0.84,2.95],[0.24,2.55],[0.29,2.45],[0.33,2.55],[0.37,2.35],[0.42,2.4],[0.45,2.25],[0.49,2.45],[0.51,2.1],[0.58,2.2],[0.63,2.35],[0.67,2.1],[0.71,2.4],[0.76,2.25],[0.42,1.85],[0.26,2.05],[0.58,1.95],[0.48,1.65]]

// axis titles, ticks and the r / p notes
let xTitles = ['Lung Volume, L', 'Airway Volume, L', 'Vascular Volume, L', 'Fibrosis Volume, L']
let yTitles = ['TLCO, mM/min/kPa', 'FVC, L']
let xTickVals = [[2, 4, 6], [0, 0.02, 0.04, 0.06], [0.2, 0.4], [0, 0.5, 1.0, 1.5]]
let xTickText = [['2', '4', '6'], ['0.00', '0.02', '0.04', '0.06'], ['0.2', '0.4'], ['0.0', '0.5', '1.0', '1.5']]
let yTickVals = [[2, 4, 6, 8], [1, 2, 3, 4, 5]]
let rTexts = [['r = 0.47', 'r = 0.08', 'r = -0.04', 'r = -0.43'], ['r = 0.82', 'r = 0.18', 'r = 0.21', 'r = -0.14']]
let pTexts = [['p<0.001', 'p=0.15', 'p=0.48', 'p<0.001'], ['p<0.001', 'p<0.001', 'p<0.001', 'p=0.001']]

let panels = [[lungTlco, airwayTlco, vascTlco, fibTlco], [lungFvc, airwayFvc, vascFvc, fibFvc]]

// layout
const xRange = [[1.43, 7.67], [-0.0015, 0.0646], [0.0294, 0.561], [-0.005, 1.57]]
const yRange = [[0.90, 8.26], [0.75, 5.40]]
const colLeft = [85, 423, 760, 1096]
const rowTop = [10, 323]
const plotW = 290, plotH = 282
// padT must cover the y axis' own label padding (half label + tick padding)
const padL = 85, padT = 32, padR = 30, padB = 90
// note offsets inside the plot area: [rx, ry, px, py]
const notePos = [
  [[11, 29, 6, 62], [180, 29, 190, 63], [180, 29, 212, 62], [181, 29, 186, 62]],
  [[11, 29, 6, 62], [180, 29, 191, 58], [180, 29, 182, 48], [181, 29, 205, 65]]
]
const font = 'DejaVu Sans'
const ink = '#262626'

const bgPlugin = {
  id: 'bg',
  beforeDraw(chart) {
    let { ctx, chartArea: a } = chart
    ctx.save()
    ctx.fillStyle = '#EAEAF2'
    ctx.fillRect(a.left, a.top, a.width, a.height)
    ctx.restore()
  }
}

const notePlugin = {
  id: 'note',
  afterDatasetsDraw(chart, args, opts) {
    let { ctx, chartArea: a } = chart
    ctx.save()
    ctx.fillStyle = ink
    ctx.textBaseline = 'alphabetic'
    ctx.font = '24px "' + font + '"'
    ctx.fillText(opts.r, a.left + opts.pos[0], a.top + opts.pos[1])
    ctx.font = '18px "' + font + '"'
    ctx.fillText(opts.p, a.left + opts.pos[2], a.top + opts.pos[3])
    ctx.restore()
  }
}

const wrap = document.getElementById('wrap')

const makePanel = (row, col) => {
  let c = document.createElement('canvas')
  c.width = plotW + padL + padR
  c.height = plotH + padT + padB
  c.style.left = (colLeft[col] - padL) + 'px'
  c.style.top = (rowTop[row] - padT) + 'px'
  wrap.appendChild(c)

  new Chart(c, {
    type: 'scatter',
    data: {
      datasets: [{
        data: panels[row][col].map(([x, y]) => ({ x, y })),
        backgroundColor: '#4470B0',
        borderColor: '#ffffff',
        borderWidth: 0.9,
        pointRadius: 4.9,
        pointHoverRadius: 4.9
      }]
    },
    options: {
      responsive: false,
      animation: false,
      events: [],
      layout: { padding: { top: padT, right: padR, left: 0, bottom: 0 } },
      plugins: {
        legend: { display: false },
        tooltip: { enabled: false },
        note: { r: rTexts[row][col], p: pTexts[row][col], pos: notePos[row][col] }
      },
      scales: {
        x: {
          type: 'linear',
          bounds: 'data',
          min: xRange[col][0],
          max: xRange[col][1],
          afterBuildTicks: (s) => { s.ticks = xTickVals[col].map((v) => ({ value: v })) },
          afterFit: (s) => { s.height = padB },
          border: { display: false },
          grid: { color: '#ffffff', lineWidth: 2, drawTicks: false },
          ticks: {
            display: row === 1,
            padding: 20,
            color: ink,
            font: { family: font, size: 21 },
            callback: (v, i) => xTickText[col][i]
          },
          title: {
            display: row === 1,
            text: xTitles[col],
            color: ink,
            font: { family: font, size: 27 },
            padding: { top: 0, bottom: 9 }
          }
        },
        y: {
          type: 'linear',
          bounds: 'data',
          min: yRange[row][0],
          max: yRange[row][1],
          afterBuildTicks: (s) => { s.ticks = yTickVals[row].map((v) => ({ value: v })) },
          afterFit: (s) => { s.width = padL },
          border: { display: false },
          grid: { color: '#ffffff', lineWidth: 2, drawTicks: false },
          ticks: {
            display: col === 0,
            padding: 17,
            color: ink,
            font: { family: font, size: 21 },
            callback: (v) => String(v)
          },
          title: {
            display: col === 0,
            text: yTitles[row],
            color: ink,
            font: { family: font, size: 27 },
            padding: { top: 13, bottom: 0 }
          }
        }
      }
    },
    plugins: [bgPlugin, notePlugin]
  })
}

for (let row = 0; row < 2; row++) {
  for (let col = 0; col < 4; col++) {
    makePanel(row, col)
  }
}
</script>
</body>
</html>
